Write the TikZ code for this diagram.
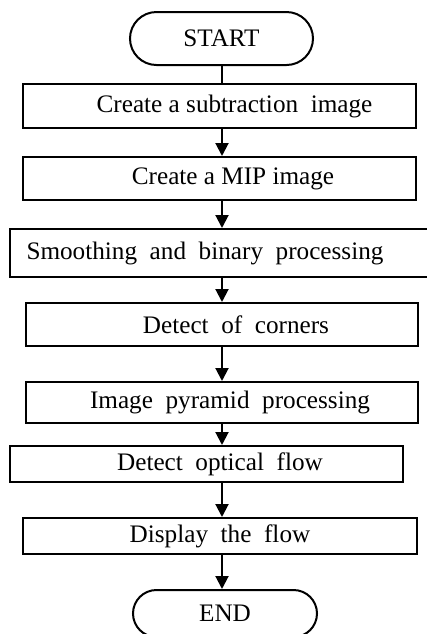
\documentclass[tikz,border=0pt]{standalone}
\usepackage{fontspec}
\setmainfont{Liberation Serif}
\newfontfamily\spreadfont[WordSpace=2]{Liberation Serif}
\usetikzlibrary{arrows.meta,shapes.misc,positioning}
\tikzset{
    terminal/.style={
    rounded rectangle,draw=black,line width=1pt,inner sep=0pt,minimum width=91.5pt
    },
    process/.style={
    rectangle,draw=black,line width=1pt,inner sep=0pt,minimum width=196.5pt
    },
    spread/.style={font=\spreadfont\fontsize{12.6}{14}\selectfont},
  line/.style={draw, line width=1pt},
  flow/.style={line, -{Triangle[width=6.5pt,length=6.5pt]}},
}
\begin{document}
\begin{tikzpicture}[x=0.5pt,y=-0.5pt,font=\fontsize{12.6}{14}\selectfont]
\useasboundingbox (0,0) rectangle (427,634);
\coordinate (spine) at (222,0);

  \node[terminal,minimum height=26.5pt] (start) at (221.5,38.5) {START};
  \node[process,minimum height=22pt] (b1) at (219.5,106) {\hspace{15pt}Create a subtraction\ \ image};
  \node[process,minimum height=21.5pt] (b2) at (219.5,178.5) {\hspace{13.5pt}Create a MIP image};
  \node[process,spread,minimum width=210pt,minimum height=24pt] (b3) at (220,253) {Smoothing and binary processing\hspace*{15pt}};
  \node[process,spread,minimum width=196pt,minimum height=21.5pt] (b4) at (222,324.5) {\hspace{14pt}Detect of corners};
  \node[process,spread,minimum width=196pt,minimum height=20.5pt] (b5) at (222,402.5) {\hspace{8pt}Image pyramid processing};
  \node[process,spread,minimum height=18pt] (b6) at (206.5,464) {\hspace{13.5pt}Detect optical flow};
  \node[process,spread,minimum width=197pt,minimum height=18pt] (b7) at (220,536) {Display the flow};
  \node[terminal,minimum width=92pt,minimum height=23.5pt] (stop) at (225,613.5) {END};

  \path[line] (spine |- start.south) -- (spine |- b1.north);
  \foreach \a/\b in {b1/b2,b2/b3,b3/b4,b4/b5,b5/b6,b6/b7,b7/stop}
    \path[flow] (spine |- \a.south) -- (spine |- \b.north);
\end{tikzpicture}
\end{document}
